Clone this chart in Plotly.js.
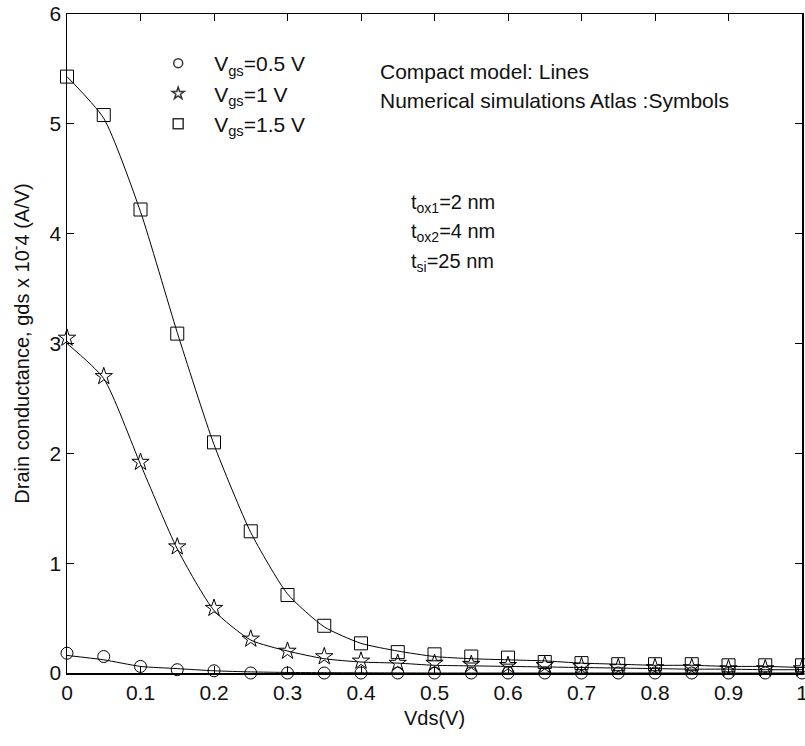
<!DOCTYPE html>
<html>
<head>
<meta charset="utf-8">
<script src="https://cdn.plot.ly/plotly-3.0.1.min.js"></script>
<style>html,body{margin:0;padding:0;background:#fff;}#chart{width:805px;height:746px;}</style>
</head>
<body>
<div id="chart"></div>
<script>
// Drain voltage Vds (V)
var vds = [0, 0.05, 0.1, 0.15, 0.2, 0.25, 0.3, 0.35, 0.4, 0.45, 0.5, 0.55, 0.6, 0.65, 0.7, 0.75, 0.8, 0.85, 0.9, 0.95, 1.0];

// Numerical simulations (Atlas) - symbols, gds x 1e-4 (A/V)
var simVgs05 = [0.18, 0.15, 0.06, 0.03, 0.02, 0.0, 0.0, 0.0, 0.0, 0.0, 0.0, 0.0, 0.0, 0.0, 0.0, 0.0, 0.0, 0.0, 0.0, 0.0, 0.0];
var simVgs1  = [3.05, 2.70, 1.92, 1.15, 0.59, 0.31, 0.20, 0.15, 0.11, 0.09, 0.09, 0.08, 0.07, 0.07, 0.06, 0.05, 0.05, 0.05, 0.04, 0.04, 0.04];
var simVgs15 = [5.43, 5.08, 4.22, 3.09, 2.10, 1.29, 0.71, 0.43, 0.27, 0.19, 0.17, 0.15, 0.14, 0.10, 0.09, 0.08, 0.08, 0.08, 0.07, 0.07, 0.07];

// Compact model - lines
var modVgs05 = [0.16, 0.12, 0.06, 0.04, 0.02, 0.01, 0.005, 0.003, 0.002, 0.001, 0.0, 0.0, 0.0, 0.0, 0.0, 0.0, 0.0, 0.0, 0.0, 0.0, 0.0];
var modVgs1  = [3.00, 2.68, 1.90, 1.13, 0.57, 0.30, 0.20, 0.13, 0.10, 0.09, 0.07, 0.065, 0.06, 0.055, 0.05, 0.045, 0.04, 0.035, 0.035, 0.03, 0.03];
var modVgs15 = [5.43, 5.05, 4.20, 3.10, 2.08, 1.28, 0.72, 0.42, 0.27, 0.20, 0.15, 0.13, 0.12, 0.11, 0.09, 0.08, 0.07, 0.07, 0.06, 0.06, 0.05];

var legendNames = ['V<sub>gs</sub>=0.5 V', 'V<sub>gs</sub>=1 V', 'V<sub>gs</sub>=1.5 V'];
var xTicks = [0, 0.1, 0.2, 0.3, 0.4, 0.5, 0.6, 0.7, 0.8, 0.9, 1];
var xTickText = ['0', '0.1', '0.2', '0.3', '0.4', '0.5', '0.6', '0.7', '0.8', '0.9', '1'];
var yTicks = [0, 1, 2, 3, 4, 5, 6];

var FONT = 'Liberation Sans, Arial, sans-serif';

function lineTrace(y) {
  return {x: vds, y: y, mode: 'lines', type: 'scatter', showlegend: false,
          line: {color: '#000', width: 1, shape: 'spline', smoothing: 0.6}, hoverinfo: 'skip'};
}
function symTrace(y, symbol, size) {
  return {x: vds, y: y, mode: 'markers', type: 'scatter', showlegend: false,
          cliponaxis: false,
          marker: {symbol: symbol, size: size, color: '#000', line: {color: '#000', width: 1}}};
}
// legend-only entries (no data of their own), smaller symbols as in the reference legend
function legendEntry(name, symbol, size, grp) {
  return {x: [null], y: [null], mode: 'markers', type: 'scatter', name: name, legendgroup: grp,
          showlegend: true,
          marker: {symbol: symbol, size: size, color: '#333', line: {color: '#333', width: 1.5}}};
}

var data = [
  lineTrace(modVgs05), lineTrace(modVgs1), lineTrace(modVgs15),
  symTrace(simVgs05, 'circle-open', 12),
  symTrace(simVgs1, 'star-open', 13),
  symTrace(simVgs15, 'square-open', 13),
  legendEntry(legendNames[0], 'circle-open', 9, 'a'),
  legendEntry(legendNames[1], 'star-open', 9, 'b'),
  legendEntry(legendNames[2], 'square-open', 10, 'c')
];

var layout = {
  width: 805, height: 746,
  margin: {l: 67, r: 3, t: 14, b: 73},
  paper_bgcolor: '#fff', plot_bgcolor: '#fff',
  font: {family: FONT, color: '#111', size: 20},
  showlegend: true,
  legend: {x: 0.1023, y: 0.956, xanchor: 'left', yanchor: 'top', bgcolor: 'rgba(0,0,0,0)',
           font: {family: FONT, size: 21, color: '#111'}, tracegroupgap: 0, itemsizing: 'trace',
           itemwidth: 62},
  xaxis: {range: [0, 1], tickvals: xTicks, ticktext: xTickText, ticks: 'inside', ticklen: 7,
          tickcolor: '#000', showline: true, linecolor: '#000', linewidth: 1.5, mirror: 'ticks',
          showgrid: false, zeroline: false, tickfont: {size: 21, color: '#111'},
          ticklabeloverflow: 'allow',
          title: {text: 'Vds(V)', font: {size: 20, color: '#111'}, standoff: 8}},
  yaxis: {range: [0, 6], tickvals: yTicks, ticks: 'inside', ticklen: 7,
          tickcolor: '#000', showline: true, linecolor: '#000', linewidth: 1.5, mirror: 'ticks',
          showgrid: false, zeroline: false, tickfont: {size: 21, color: '#111'},
          ticklabeloverflow: 'allow',
          title: {text: 'Drain conductance, gds x 10<sup>-</sup>4 (A/V)', font: {size: 20, color: '#111'}, standoff: 14}},
  annotations: [
    {xref: 'paper', yref: 'paper', x: (378 - 67) / 735, y: (673 - 71) / 659, xanchor: 'left', yanchor: 'middle',
     text: 'Compact model: Lines', showarrow: false, font: {size: 21, color: '#111'}},
    {xref: 'paper', yref: 'paper', x: (378 - 67) / 735, y: (673 - 101) / 659, xanchor: 'left', yanchor: 'middle',
     text: 'Numerical simulations Atlas :Symbols', showarrow: false, font: {size: 21, color: '#111'}},
    {xref: 'paper', yref: 'paper', x: (409 - 67) / 735, y: (673 - 203) / 659, xanchor: 'left', yanchor: 'middle',
     text: 't<sub>ox1</sub>=2 nm', showarrow: false, font: {size: 20, color: '#111'}},
    {xref: 'paper', yref: 'paper', x: (409 - 67) / 735, y: (673 - 233) / 659, xanchor: 'left', yanchor: 'middle',
     text: 't<sub>ox2</sub>=4 nm', showarrow: false, font: {size: 20, color: '#111'}},
    {xref: 'paper', yref: 'paper', x: (409 - 67) / 735, y: (673 - 262) / 659, xanchor: 'left', yanchor: 'middle',
     text: 't<sub>si</sub>=25 nm', showarrow: false, font: {size: 20, color: '#111'}}
  ]
};

Plotly.newPlot('chart', data, layout, {displayModeBar: false, staticPlot: true});
</script>
</body>
</html>
